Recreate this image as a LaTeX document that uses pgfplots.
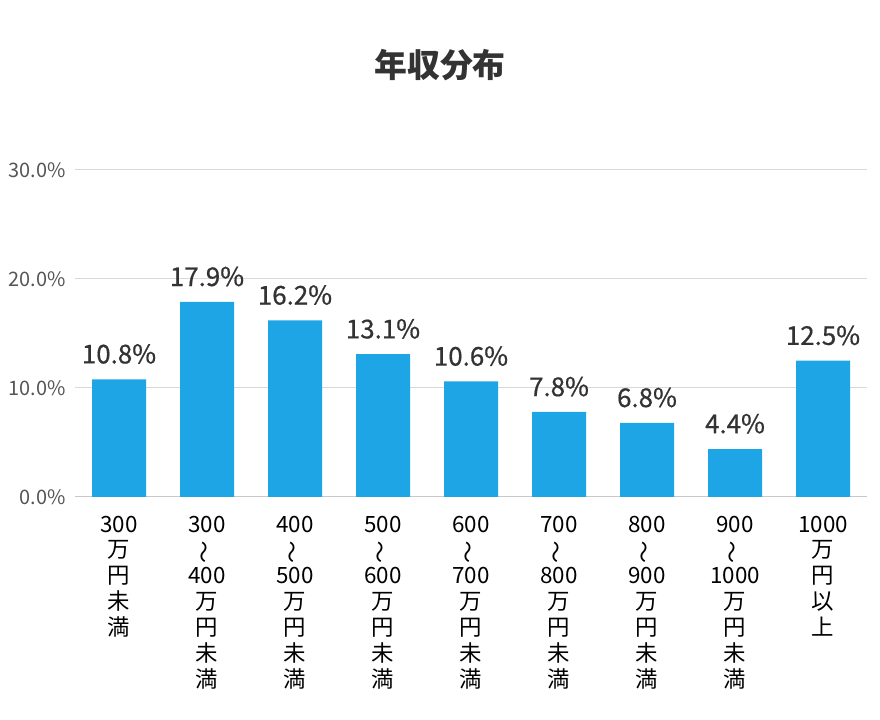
\documentclass[border=0pt]{standalone}
\usepackage{fontspec}
\usepackage{graphicx}
\setmainfont{Noto Sans CJK JP}
\newfontfamily\labfont[FakeBold=0.6]{Noto Sans CJK JP}
\usepackage{pgfplots}
\pgfplotsset{compat=1.18}
\definecolor{barblue}{RGB}{30,165,230}
\definecolor{gridgray}{RGB}{217,217,217}
\definecolor{axgray}{RGB}{200,200,200}
\definecolor{txtdark}{RGB}{51,51,51}
\definecolor{ticktxt}{RGB}{85,85,85}
\newcommand{\vt}{\rotatebox[origin=c]{90}{～}}
\begin{document}
\begin{tikzpicture}[x=1bp,y=1bp]
\path[use as bounding box] (0,0) rectangle (880,720);
\node[text=txtdark,font=\fontsize{33}{33}\selectfont\bfseries] at (440,655) {年収分布};
\begin{axis}[
  at={(75bp,223bp)}, anchor=south west,
  scale only axis, width=792bp, height=327bp,
  xmin=-0.5, xmax=8.5, ymin=0, ymax=30,
  axis x line*=bottom, axis y line*=left,
  x axis line style={draw=axgray, line width=1pt},
  y axis line style={draw=none},
  ytick style={draw=none},
  ymajorgrids, grid style={draw=gridgray, line width=1pt},
  ytick={0,10,20,30},
  /pgf/number format/assume math mode=true,
  yticklabel={\pgfmathprintnumber[fixed,fixed zerofill,precision=1]{\tick}\%},
  yticklabel style={text=ticktxt, font=\fontsize{20}{20}\selectfont, xshift=-6bp},
  xtick={0,...,8},
  xticklabels={
    {300\\万\\円\\未\\満},
    {300\\\vt\\400\\万\\円\\未\\満},
    {400\\\vt\\500\\万\\円\\未\\満},
    {500\\\vt\\600\\万\\円\\未\\満},
    {600\\\vt\\700\\万\\円\\未\\満},
    {700\\\vt\\800\\万\\円\\未\\満},
    {800\\\vt\\900\\万\\円\\未\\満},
    {900\\\vt\\1000\\万\\円\\未\\満},
    {1000\\万\\円\\以\\上}},
  xticklabel style={align=center, text=black, font=\fontsize{22.5}{26}\selectfont, anchor=north, yshift=-11bp},
  extra x ticks={0.5,1.5,...,7.5},
  extra x tick labels={},
  extra x tick style={major tick length=5bp, tick style={draw=axgray, line width=1pt}, tick align=outside},
  xtick style={draw=none},
  ybar, bar width=54bp,
  nodes near coords={\pgfmathprintnumber[fixed,fixed zerofill,precision=1]{\pgfplotspointmeta}\%},
  nodes near coords style={text=txtdark, font=\labfont\fontsize{26}{26}\selectfont, yshift=12bp},
]
\addplot[fill=barblue, draw=none] coordinates {
(0,10.8) (1,17.9) (2,16.2) (3,13.1) (4,10.6) (5,7.8) (6,6.8) (7,4.4) (8,12.5)};
\end{axis}
\end{tikzpicture}
\end{document}
